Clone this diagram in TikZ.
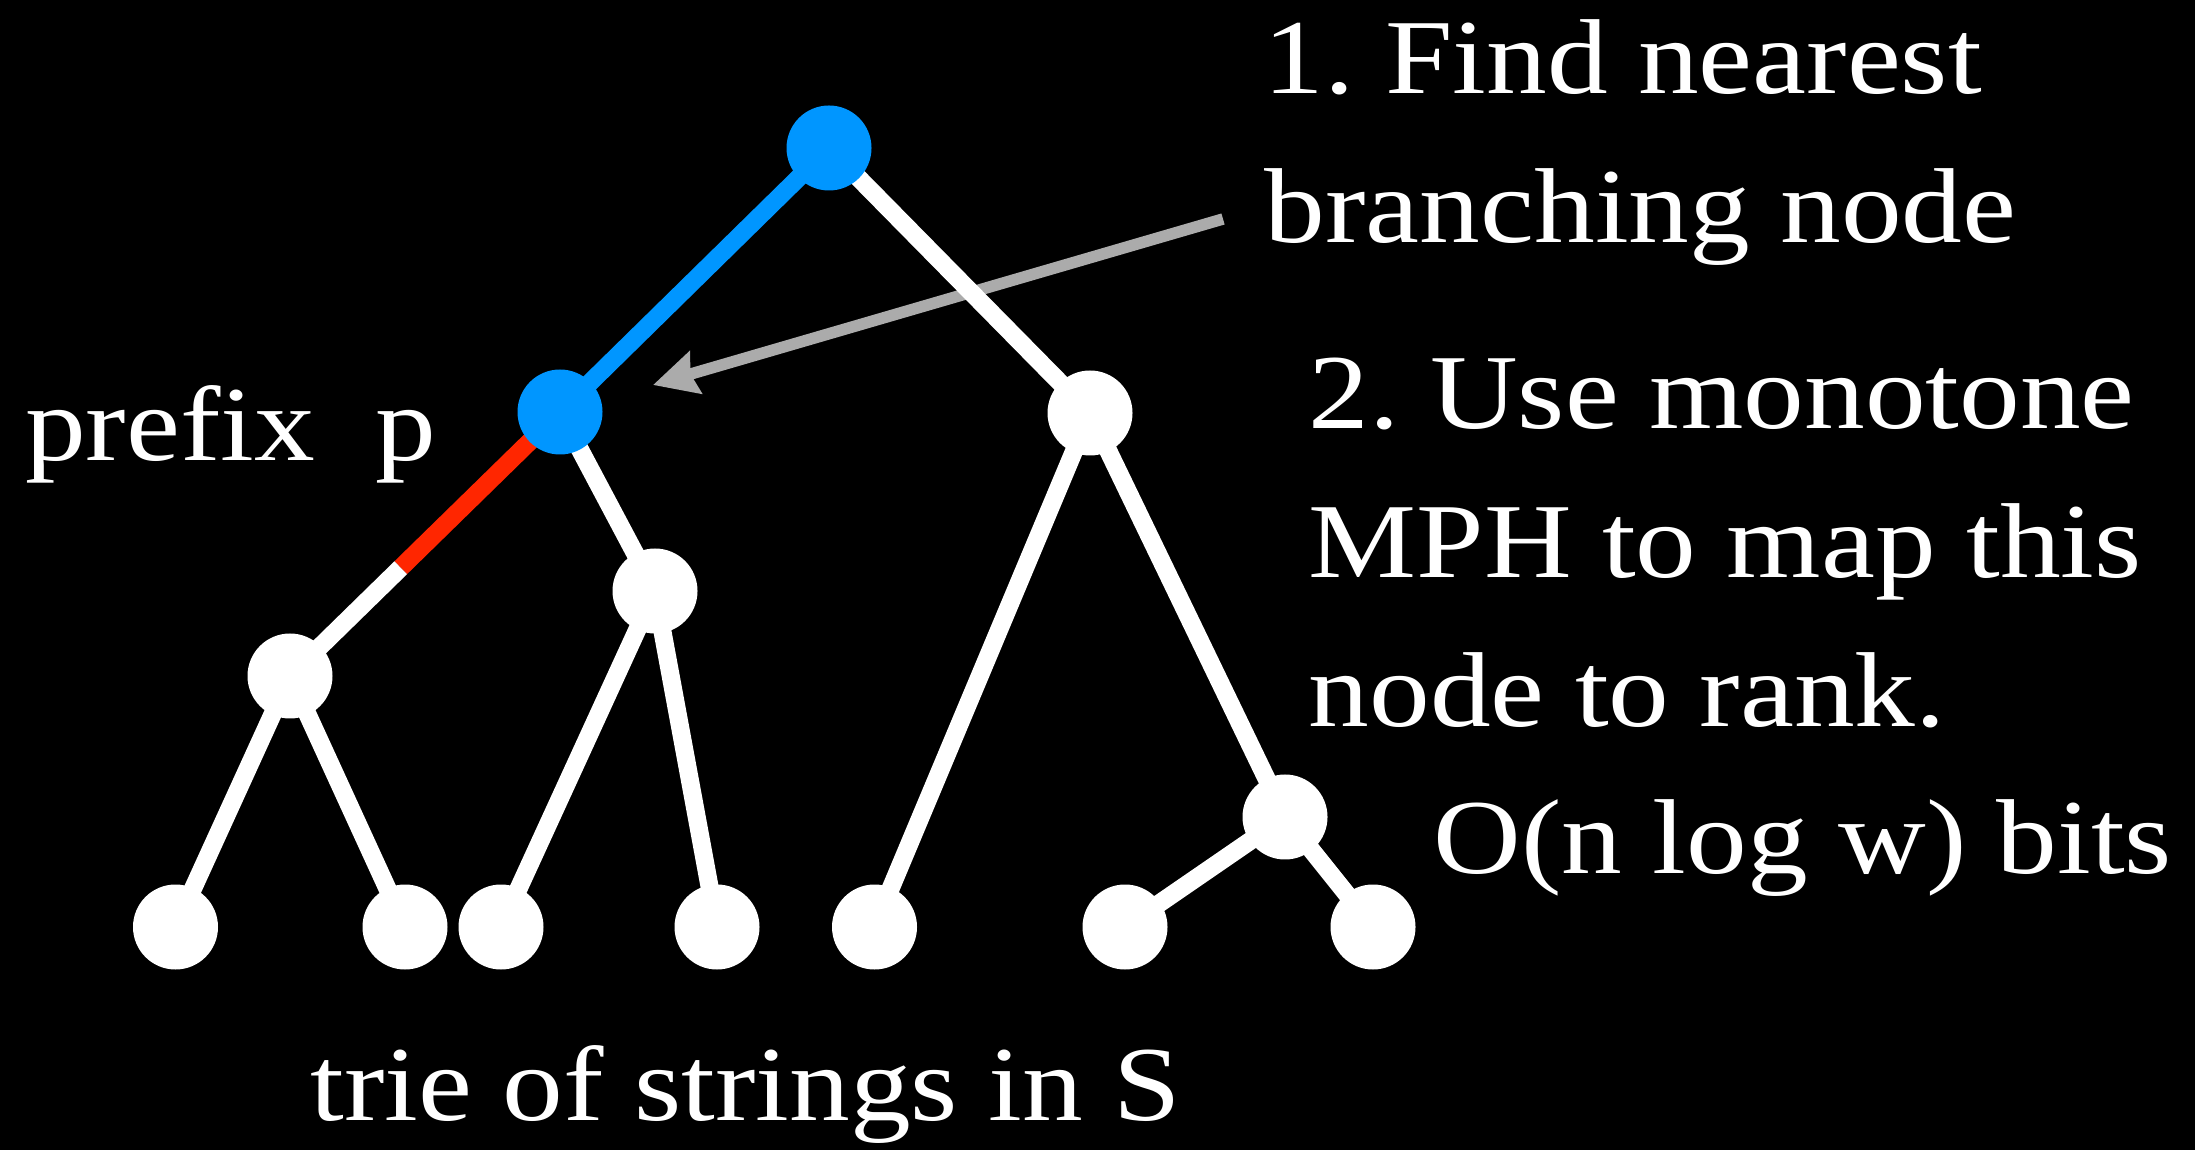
\documentclass[tikz,border=0pt]{standalone}
\usepackage{fontspec}
\setmainfont{Liberation Serif}[FakeStretch=1.14]
\usetikzlibrary{arrows.meta,calc,backgrounds}
\definecolor{nodeblue}{RGB}{0,150,255}
\definecolor{pathred}{RGB}{255,38,0}
\frenchspacing
\tikzset{
    vtx/.style={circle, fill=white, minimum size=0.85cm, inner sep=0pt},
    bvtx/.style={vtx, fill=nodeblue},
    edge/.style={draw=white, line width=0.18cm},
    bedge/.style={draw=nodeblue, line width=0.18cm},
    redge/.style={draw=pathred, line width=0.18cm},
    txt/.style={text=white, inner sep=0pt, anchor=base west, font=\fontsize{30.3}{42}\selectfont}
}
\begin{document}
\begin{tikzpicture}
    \useasboundingbox (0,0) rectangle (21.95,11.49);
    % trie nodes
    \node[bvtx] (root) at (8.29,10.01) {};
    \node[bvtx] (pnode) at (5.60,7.37) {};
    \node[vtx] (rnode) at (10.90,7.36) {};
    \node[vtx] (a) at (2.90,4.73) {};
    \node[vtx] (b) at (6.55,5.58) {};
    \node[vtx] (c) at (12.85,3.32) {};
    \node[vtx] (l1) at (1.755,2.22) {};
    \node[vtx] (l2) at (4.05,2.22) {};
    \node[vtx] (l3) at (5.01,2.22) {};
    \node[vtx] (l4) at (7.17,2.22) {};
    \node[vtx] (l5) at (8.745,2.22) {};
    \node[vtx] (l6) at (11.25,2.22) {};
    \node[vtx] (l7) at (13.73,2.22) {};
    \coordinate (cut) at ($(pnode)!0.59!(a)$);
    % edges behind the nodes
    \begin{scope}[on background layer]
        \fill[black] (-0.2,-0.2) rectangle (22.15,11.69);
        \draw[bedge] (root.center) -- (pnode.center);
        \draw[edge] (root.center) -- (rnode.center);
        \draw[redge] (pnode.center) -- (cut);
        \draw[edge] (cut) -- (a.center);
        \draw[edge] (pnode.center) -- (b.center);
        \draw[edge] (a.center) -- (l1.center);
        \draw[edge] (a.center) -- (l2.center);
        \draw[edge] (b.center) -- (l3.center);
        \draw[edge] (b.center) -- (l4.center);
        \draw[edge] (rnode.center) -- (l5.center);
        \draw[edge] (rnode.center) -- (c.center);
        \draw[edge] (c.center) -- (l6.center);
        \draw[edge] (c.center) -- (l7.center);
    \end{scope}
    % labels
    \node[txt] (find1) at (12.63,10.55) {1. Find nearest};
    \node[txt] (find2) at (12.64,9.06) {branching node};
    \node[txt] (use1) at (13.08,7.20) {2. Use monotone};
    \node[txt] (use2) at (13.08,5.71) {MPH to map this};
    \node[txt] (use3) at (13.08,4.22) {node to rank.};
    \node[txt] (bits) at (14.33,2.76) {O(n log w) bits};
    \node[txt] (prefix) at (0.245,6.88) {prefix~~p};
    \node[txt] (trie) at (3.10,0.29) {trie of strings in S};
    % pointer
    \coordinate (tail) at (12.23,9.30);
    \coordinate (tip) at (6.53,7.64);
    \begin{scope}[transparency group, opacity=0.67]
        \draw[white, line width=0.115cm,
              -{Stealth[length=0.44cm, width=0.43cm, inset=0.05cm]}] (tail) -- (tip);
    \end{scope}
\end{tikzpicture}
\end{document}
